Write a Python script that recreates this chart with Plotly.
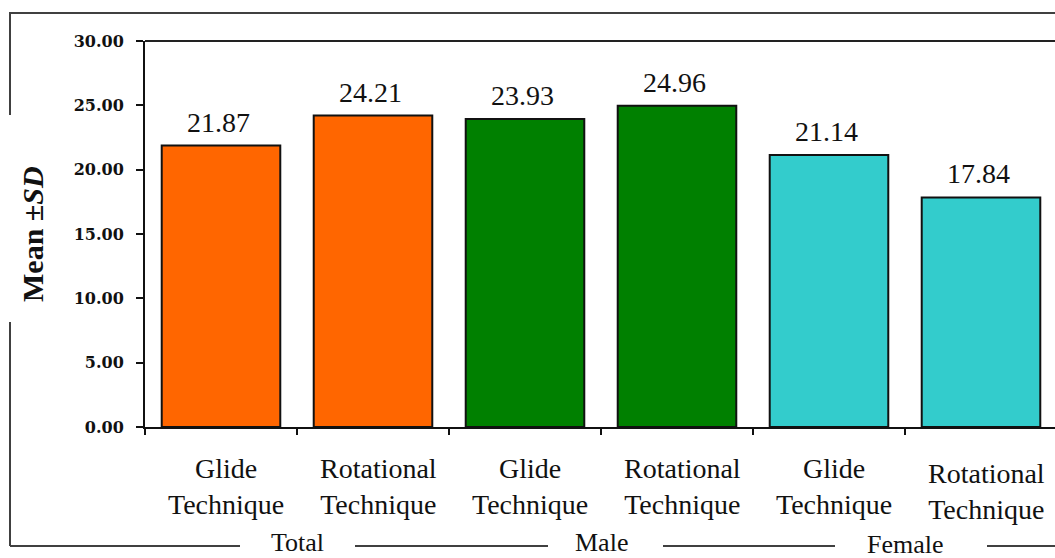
import plotly.graph_objects as go

categories = ["Glide<br>Technique", "Rotational<br>Technique",
              "Glide<br>Technique", "Rotational<br>Technique",
              "Glide<br>Technique", "Rotational<br>Technique"]
values = [21.87, 24.21, 23.93, 24.96, 21.14, 17.84]
groups = ["Total", "Male", "Female"]
bar_colors = ["#FF6600", "#FF6600", "#008000", "#008000", "#33CCCC", "#33CCCC"]
y_ticks = [0, 5, 10, 15, 20, 25, 30]

W, H = 1055, 558
L, T, B = 145, 41, 131
plot_w = W - L
plot_h = H - T - B
cat_w = 152


def px2x(px):
    return (px - L) / plot_w


def py2y(py):
    return (H - B - py) / plot_h


xs = list(range(len(values)))
fig = go.Figure()
fig.add_trace(go.Bar(
    x=xs, y=values, width=0.78,
    marker=dict(color=bar_colors, line=dict(color="#111111", width=2)),
    hoverinfo="skip", showlegend=False,
))

serif = "Liberation Serif"
ann = []
# value labels
for x, v in zip(xs, values):
    ann.append(dict(x=x, y=v, xref="x", yref="y", text=f"{v:.2f}", showarrow=False,
                    yanchor="bottom", yshift=6, xshift=-3,
                    font=dict(family=serif, size=28, color="#111")))
# category labels
for i, (x, c) in enumerate(zip(xs, categories)):
    ann.append(dict(x=x, y=py2y(451 if i < 5 else 456), xref="x", yref="paper", text=c,
                    showarrow=False, yanchor="top", xshift=5,
                    font=dict(family=serif, size=28, color="#111")))
# group labels
for i, g in enumerate(groups):
    ann.append(dict(x=2 * i + 0.5, y=py2y(542 if g != "Female" else 544), xref="x", yref="paper",
                    text=g, showarrow=False, yanchor="middle",
                    font=dict(family=serif, size=26, color="#111")))
# y title
ann.append(dict(x=px2x(32), y=py2y(234), xref="paper", yref="paper",
                text="<b>Mean ±<i>SD</i></b>", textangle=-90, showarrow=False,
                xanchor="center", yanchor="middle",
                font=dict(family=serif, size=30, color="#111")))

frame = dict(color="#404040", width=2)
segs = [
    (9, 13, W, 13),
    (10, 13, 10, 115),
    (10, 322, 10, 546),
    (10, 546, 240, 546),
    (355, 546, 548, 546),
    (663, 546, 835, 546),
    (987, 546, W, 546),
]
shapes = [dict(type="line", xref="paper", yref="paper",
               x0=px2x(a), y0=py2y(b), x1=px2x(c), y1=py2y(d), line=frame) for a, b, c, d in segs]
shapes.append(dict(type="line", xref="paper", yref="paper", x0=0, x1=1, y0=1, y1=1,
                   line=dict(color="#222", width=2)))

fig.update_layout(
    width=W, height=H,
    margin=dict(l=L, r=0, t=T, b=B, pad=0),
    paper_bgcolor="white", plot_bgcolor="white",
    annotations=ann, shapes=shapes,
    xaxis=dict(range=[-0.5, -0.5 + plot_w / cat_w], tickvals=[i - 0.5 for i in range(7)],
               showticklabels=False, ticks="outside", ticklen=6, tickwidth=2, tickcolor="#111",
               showline=True, linecolor="#111", linewidth=2, showgrid=False, zeroline=False,
               fixedrange=True),
    yaxis=dict(range=[0, 30], tickvals=y_ticks, tickformat=".2f",
               ticks="outside", ticklen=7, tickwidth=2, tickcolor="#111",
               showline=True, linecolor="#111", linewidth=2, showgrid=False, zeroline=False,
               ticklabelstandoff=9, fixedrange=True,
               tickfont=dict(family="DejaVu Serif", size=16, color="#111", weight="bold")),
)

fig.write_html("out.html", config={"displayModeBar": False},
               post_script="document.body.style.margin='0';document.body.style.overflow='hidden';")
